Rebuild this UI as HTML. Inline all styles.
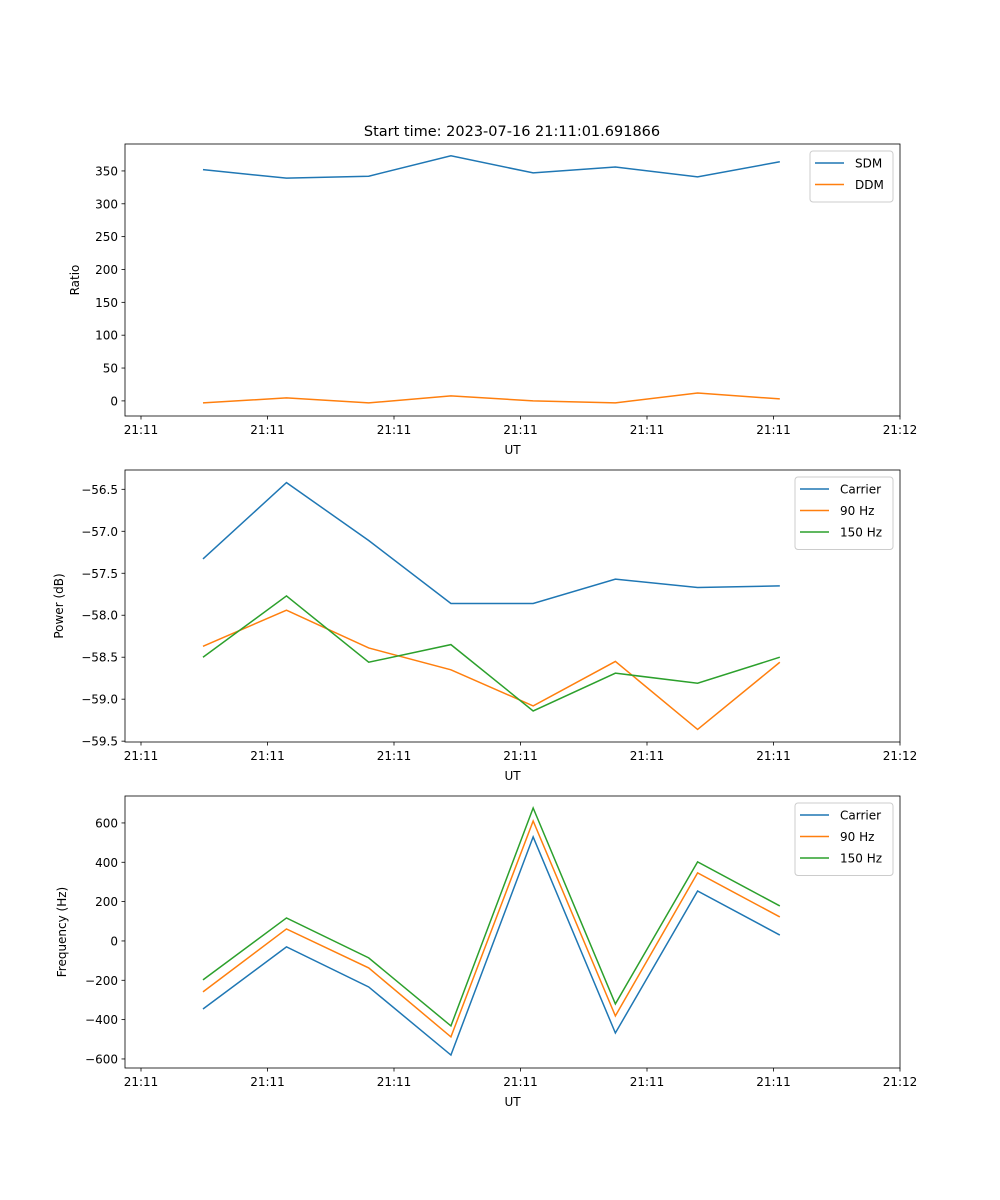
<!DOCTYPE html>
<html><head><meta charset="utf-8"><style>
body{margin:0;background:#fff}
svg{display:block;font-family:"DejaVu Sans","Liberation Sans",sans-serif}
</style></head><body>
<svg id="fig" width="1000" height="1200" viewBox="0 0 1000 1200"></svg>
<script>
const xTickLabels=["21:11","21:11","21:11","21:11","21:11","21:11","21:12"];
const xTickIdx=[0,1,2,3,4,5,6];
const xPoints=[0.49,1.15,1.8,2.45,3.1,3.75,4.4,5.05];
const sdm=[352,339,342,373,347,356,341,364];
const ddm=[-3,4.5,-3,7.6,0,-3,12,3];
const powCarrier=[-57.33,-56.42,-57.11,-57.86,-57.86,-57.57,-57.67,-57.65];
const pow90=[-58.37,-57.94,-58.39,-58.65,-59.08,-58.55,-59.36,-58.56];
const pow150=[-58.5,-57.77,-58.56,-58.35,-59.14,-58.69,-58.81,-58.5];
const frqCarrier=[-346,-30,-234,-580,529,-468,254,30];
const frq90=[-259,61,-137,-488,610,-381,346,122];
const frq150=[-198,117,-86,-432,676,-320,402,178];
const ticks1=[0,50,100,150,200,250,300,350];
const ticks2=[-59.5,-59.0,-58.5,-58.0,-57.5,-57.0,-56.5];
const ticks3=[-600,-400,-200,0,200,400,600];

const NS="http://www.w3.org/2000/svg";
const svg=document.getElementById('fig');
function el(t,a,p){const e=document.createElementNS(NS,t);for(const k in a)e.setAttribute(k,a[k]);(p||svg).appendChild(e);return e;}
const L=125,R=900;
// x domain: tick 0 at 141, tick 6 at 900 -> 126.5 px per unit
function xs(v){return 141+v*126.5;}
const C={blue:"#1f77b4",orange:"#ff7f0e",green:"#2ca02c"};

function panel(name,top,bot,ymin,ymax,yt,fmt,ylabel,series,legend,legW){
  const g=el('g',{});
  
  
  const ys=v=>bot-(v-ymin)/(ymax-ymin)*(bot-top);
  series.forEach(s=>{
    const p=el('polyline',{points:s.d.map((v,i)=>xs(xPoints[i])+','+ys(v)).join(' '),fill:'none',stroke:s.c,'stroke-width':1.5},g);
    
    
  });
  const fr=el('rect',{x:L,y:top,width:R-L,height:bot-top,fill:'none',stroke:'#000','stroke-width':0.8},g);
  
  
  xTickIdx.forEach((t,i)=>{
    const x=xs(t);
    el('line',{x1:x,y1:bot,x2:x,y2:bot+3.5,stroke:'#000','stroke-width':0.8},g);
    const tx=el('text',{x:x,y:bot+18,'font-size':12,'text-anchor':'middle'},g);
    tx.textContent=xTickLabels[i];
    
    
  });
  yt.forEach(v=>{
    const y=ys(v);
    el('line',{x1:L,y1:y,x2:L-3.5,y2:y,stroke:'#000','stroke-width':0.8},g);
    const tx=el('text',{x:L-7,y:y+4.5,'font-size':12,'text-anchor':'end'},g);
    tx.textContent=fmt(v);
    
    
  });
  const xl=el('text',{x:(L+R)/2,y:bot+38,'font-size':12,'text-anchor':'middle'},g);
  xl.textContent='UT';
  
  
  const ly=(top+bot)/2;
  const lx=legW.ylx;
  const yl=el('text',{x:lx,y:ly,'font-size':12,'text-anchor':'middle',transform:`rotate(-90 ${lx} ${ly})`},g);
  yl.textContent=ylabel;
  
  
  // legend
  const lg=el('g',{},g);
  
  
  const bx=legW.x,by=top+7,bh=8+legend.length*21.5;
  el('rect',{x:bx,y:by,width:893-bx,height:bh,rx:3,fill:'#fff',stroke:'#ccc','stroke-width':1},lg);
  legend.forEach((s,i)=>{
    const yy=by+12+i*21.5;
    const ln=el('line',{x1:bx+5,y1:yy,x2:bx+34,y2:yy,stroke:s.c,'stroke-width':1.5},lg);
    
    
    const t=el('text',{x:bx+45,y:yy+4.5,'font-size':12},lg);
    t.textContent=s.n;
    
    
  });
}
const title=el('text',{x:512,y:136,'font-size':14.5,'text-anchor':'middle'});
title.textContent='Start time: 2023-07-16 21:11:01.691866';



panel('ratio-panel',144,416,-23,391,ticks1,v=>String(v),'Ratio',
  [{n:'SDM',d:sdm,c:C.blue},{n:'DDM',d:ddm,c:C.orange}],
  [{n:'SDM',c:C.blue},{n:'DDM',c:C.orange}],{x:810,ylx:79});
panel('power-panel',470,742,-59.51,-56.27,ticks2,v=>'\u2212'+Math.abs(v).toFixed(1),'Power (dB)',
  [{n:'Carrier',d:powCarrier,c:C.blue},{n:'90 Hz',d:pow90,c:C.orange},{n:'150 Hz',d:pow150,c:C.green}],
  [{n:'Carrier',c:C.blue},{n:'90 Hz',c:C.orange},{n:'150 Hz',c:C.green}],{x:795,ylx:63});
panel('frequency-panel',796,1068,-646,737,ticks3,v=>v<0?'\u2212'+Math.abs(v):String(v),'Frequency (Hz)',
  [{n:'Carrier',d:frqCarrier,c:C.blue},{n:'90 Hz',d:frq90,c:C.orange},{n:'150 Hz',d:frq150,c:C.green}],
  [{n:'Carrier',c:C.blue},{n:'90 Hz',c:C.orange},{n:'150 Hz',c:C.green}],{x:795,ylx:66});
</script>
</body></html>
